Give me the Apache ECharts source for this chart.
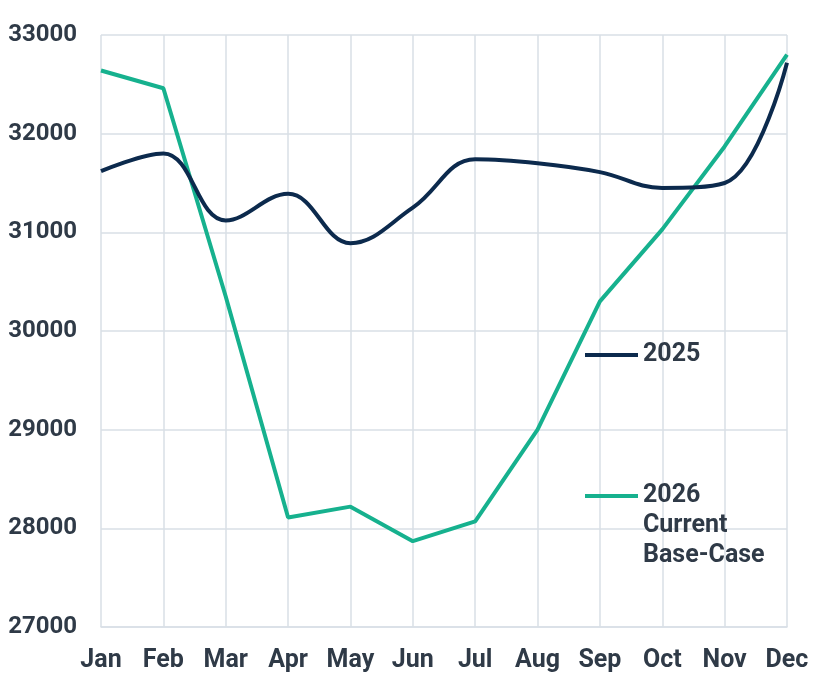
<!DOCTYPE html>
<html>
<head>
<meta charset="utf-8">
<script src="https://cdn.jsdelivr.net/npm/echarts@6/dist/echarts.min.js"></script>
<style>
  html, body { margin: 0; padding: 0; background: #fff; }
  #chart { width: 824px; height: 677px; }
</style>
</head>
<body>
<div id="chart"></div>
<script>
var months = ["Jan", "Feb", "Mar", "Apr", "May", "Jun", "Jul", "Aug", "Sep", "Oct", "Nov", "Dec"];
var data2025 = [31620, 31800, 31120, 31390, 30890, 31250, 31740, 31700, 31610, 31450, 31500, 32720];
var data2026 = [32640, 32460, 30350, 28110, 28220, 27870, 28070, 29000, 30300, 31030, 31870, 32800];

var navy = "#0c2a4d";
var teal = "#16b18e";
var textColor = "#2f3a47";
var gridColor = "#d9dfe6";

var chart = echarts.init(document.getElementById("chart"));

var option = {
  backgroundColor: "#ffffff",
  animation: false,
  grid: {
    left: 101,
    right: 37,
    top: 35,
    bottom: 50,
    outerBoundsMode: "none"
  },
  legend: [
    {
      data: ["2025"],
      left: 585,
      top: 340,
      padding: 0,
      itemGap: 4,
      icon: "rect",
      itemWidth: 53,
      itemHeight: 4,
      itemStyle: { color: navy },
      textStyle: {
        color: textColor,
        fontFamily: "Roboto",
        fontWeight: "bold",
        fontSize: 25,
        lineHeight: 30
      }
    },
    {
      data: ["2026 Current Base-Case"],
      left: 585,
      top: 421,
      padding: 0,
      icon: "rect",
      itemWidth: 53,
      itemHeight: 4,
      itemStyle: { color: teal },
      // blank lines on top keep the icon level with the first text line
      formatter: function () {
        return "\n\n2026\nCurrent\nBase-Case";
      },
      textStyle: {
        color: textColor,
        fontFamily: "Roboto",
        fontWeight: "bold",
        fontSize: 25,
        lineHeight: 30
      }
    }
  ],
  xAxis: {
    type: "category",
    data: months,
    boundaryGap: false,
    axisLine: { lineStyle: { color: gridColor, width: 1.5 } },
    axisTick: { show: false },
    splitLine: { show: true, lineStyle: { color: gridColor, width: 1.5 } },
    axisLabel: {
      color: textColor,
      fontFamily: "Roboto",
      fontWeight: "bold",
      fontSize: 25,
      margin: 21,
      interval: 0
    }
  },
  yAxis: {
    type: "value",
    min: 27000,
    max: 33000,
    interval: 1000,
    axisLine: { show: false },
    axisTick: { show: false },
    splitLine: { lineStyle: { color: gridColor, width: 1.5 } },
    axisLabel: {
      color: textColor,
      fontFamily: "Roboto",
      fontWeight: "bold",
      fontSize: 24,
      margin: 24,
      formatter: function (v) { return String(v); }
    }
  },
  series: [
    {
      name: "2025",
      type: "line",
      data: data2025,
      smooth: 0.4,
      symbol: "none",
      lineStyle: { color: navy, width: 4 },
      itemStyle: { color: navy },
      z: 3
    },
    {
      name: "2026 Current Base-Case",
      type: "line",
      data: data2026,
      symbol: "none",
      lineStyle: { color: teal, width: 4 },
      itemStyle: { color: teal },
      z: 2
    }
  ]
};

chart.setOption(option);
</script>
</body>
</html>
